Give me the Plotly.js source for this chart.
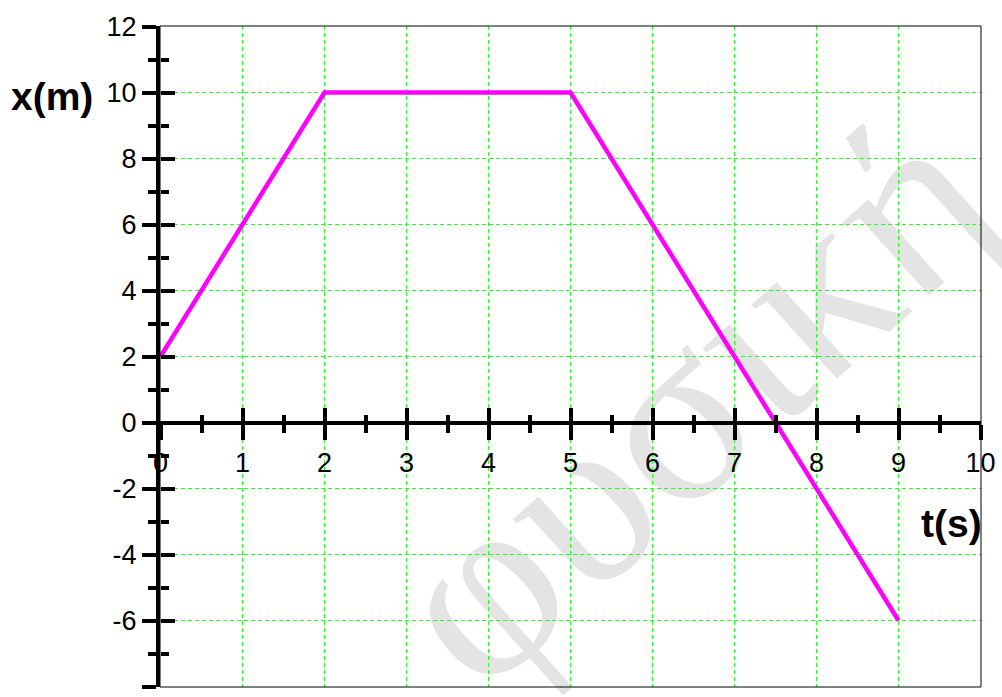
<!DOCTYPE html>
<html>
<head>
<meta charset="utf-8">
<script src="https://cdn.plot.ly/plotly-3.0.1.min.js"></script>
<style>html,body{margin:0;padding:0;background:#fff;}#chart{width:1002px;height:697px;}</style>
</head>
<body>
<div id="chart"></div>
<script>
// Data
const tValues = [0, 2, 5, 9];
const xValues = [2, 10, 10, -6];
const xTickVals = [0, 1, 2, 3, 4, 5, 6, 7, 8, 9, 10];
const xTickText = ['0', '1', '2', '3', '4', '5', '6', '7', '8', '9', '10'];
const yTickVals = [-8, -6, -4, -2, 0, 2, 4, 6, 8, 10, 12];
const yTickText = ['-8', '-6', '-4', '-2', '0', '2', '4', '6', '8', '10', '12'];
const yAxisLabel = 'x(m)';
const xAxisLabel = 't(s)';
const watermark = 'φυσική';

// half-pixel padding so 1px gridlines fall on pixel centres
const xPad = 0.5 / 82;
const yPad = 0.5 / 33;
const xRange = [0 - xPad, 10 + xPad];
const yRange = [-8 - yPad, 12 + yPad];
const xAxisPos = (0 - yRange[0]) / (yRange[1] - yRange[0]);

const tickFont = {family: 'Liberation Sans, Arial, sans-serif', size: 27, color: '#000'};
const titleFont = {family: 'Liberation Sans, Arial, sans-serif', size: 39, color: '#000', weight: 'bold'};
const gridColor = '#22ff22';

const traces = [
  {
    x: tValues, y: xValues, type: 'scatter', mode: 'lines',
    line: {color: '#ff00ff', width: 4.5},
    hoverinfo: 'skip', showlegend: false
  },
  {
    x: [], y: [], type: 'scatter', mode: 'lines',
    xaxis: 'x2', yaxis: 'y2', hoverinfo: 'skip', showlegend: false
  }
];

const layout = {
  width: 1002, height: 697,
  margin: {l: 160, r: 21, t: 26, b: 10, pad: 0},
  paper_bgcolor: '#ffffff',
  plot_bgcolor: 'rgba(0,0,0,0)',
  showlegend: false,
  xaxis: {
    range: xRange, anchor: 'free', position: xAxisPos,
    showline: true, linecolor: '#000', linewidth: 4,
    ticks: 'outside', ticklen: 15, tickwidth: 4, tickcolor: '#000',
    tickmode: 'array', tickvals: xTickVals, ticktext: xTickText,
    tickfont: tickFont,
    showgrid: true, gridcolor: gridColor, gridwidth: 1, griddash: '4px,3px',
    zeroline: false, fixedrange: true,
    minor: {ticks: 'outside', ticklen: 8, tickwidth: 4, tickcolor: '#000', tickmode: 'linear', tick0: 0, dtick: 0.5, showgrid: false}
  },
  yaxis: {
    range: yRange,
    showline: true, linecolor: '#000', linewidth: 4,
    ticks: 'outside', ticklen: 14, tickwidth: 4, tickcolor: '#000',
    tickmode: 'array', tickvals: yTickVals, ticktext: yTickText,
    tickfont: tickFont,
    showgrid: true, gridcolor: gridColor, gridwidth: 1, griddash: '4px,3px',
    zeroline: false, fixedrange: true,
    minor: {ticks: 'outside', ticklen: 8, tickwidth: 4, tickcolor: '#000', tickmode: 'linear', tick0: 0, dtick: 1, showgrid: false}
  },
  xaxis2: {
    overlaying: 'x', anchor: 'free', position: xAxisPos, range: xRange,
    ticks: 'inside', ticklen: 15, tickwidth: 4, tickcolor: '#000',
    tickmode: 'array', tickvals: xTickVals, showticklabels: false,
    showgrid: false, showline: false, zeroline: false, fixedrange: true,
    minor: {ticks: 'inside', ticklen: 8, tickwidth: 4, tickcolor: '#000', tickmode: 'linear', tick0: 0, dtick: 0.5, showgrid: false}
  },
  yaxis2: {
    overlaying: 'y', anchor: 'free', position: 0, side: 'left', range: yRange,
    ticks: 'inside', ticklen: 14, tickwidth: 4, tickcolor: '#000',
    tickmode: 'array', tickvals: yTickVals, showticklabels: false,
    showgrid: false, showline: false, zeroline: false, fixedrange: true,
    minor: {ticks: 'inside', ticklen: 8, tickwidth: 4, tickcolor: '#000', tickmode: 'linear', tick0: 0, dtick: 1, showgrid: false}
  },
  shapes: [
    {
      type: 'rect', xref: 'paper', yref: 'paper', x0: 0.6136, x1: 0.6336, y0: 0.4544, y1: 0.4744,
      line: {width: 0}, fillcolor: 'rgba(0,0,0,0)', layer: 'below',
      label: {text: watermark, textangle: -42, textposition: 'middle center',
        font: {family: 'Liberation Serif, DejaVu Serif, serif', size: 245, color: '#e4e4e4'}}
    },
    {
      type: 'rect', xref: 'paper', yref: 'paper', x0: 0, x1: 1, y0: 0, y1: 1,
      line: {color: '#000', width: 1}, fillcolor: 'rgba(0,0,0,0)', layer: 'above'
    }
  ],
  annotations: [
    {text: yAxisLabel, xref: 'paper', yref: 'paper', x: -0.1845, y: 0.8926, xanchor: 'left', yanchor: 'middle', showarrow: false, font: titleFont},
    {text: xAxisLabel, xref: 'paper', yref: 'paper', x: 1.004, y: 0.2466, xanchor: 'right', yanchor: 'middle', showarrow: false, font: titleFont}
  ]
};

Plotly.newPlot('chart', traces, layout, {displayModeBar: false, staticPlot: true});
</script>
</body>
</html>
